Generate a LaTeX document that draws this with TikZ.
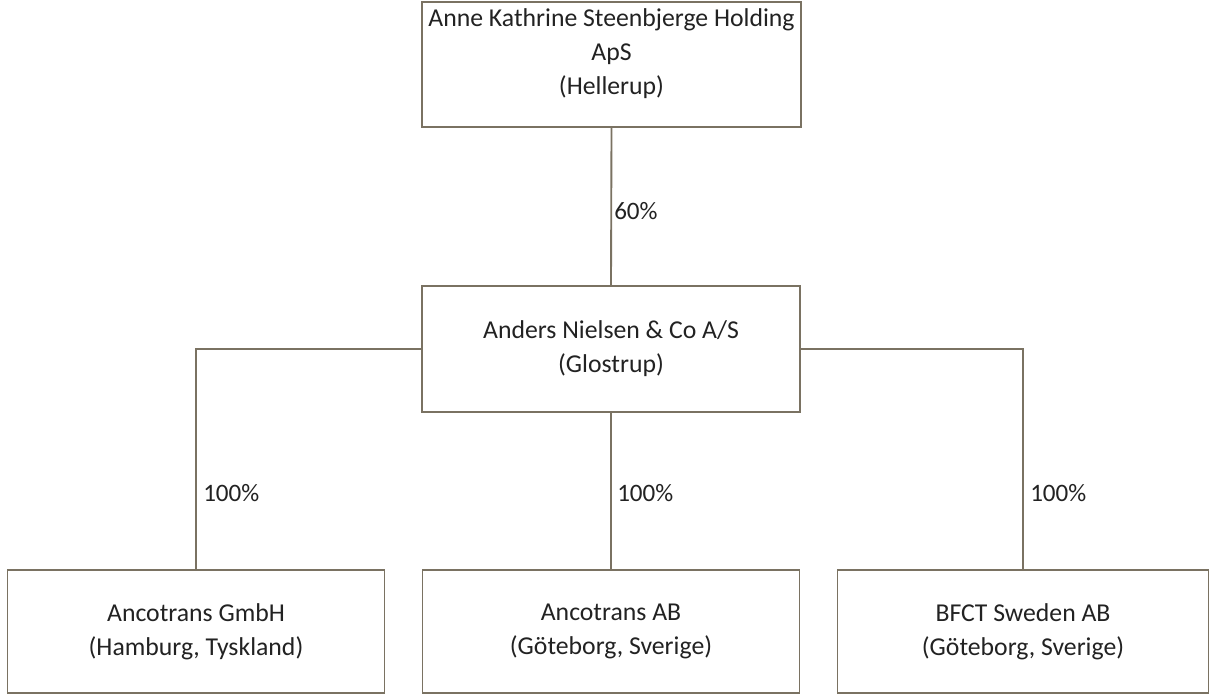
\documentclass[tikz,border=0pt]{standalone}
\usepackage{fontspec}
\setmainfont{Carlito}
\definecolor{linec}{HTML}{7A7262}
\definecolor{textc}{HTML}{222222}
\begin{document}
\begin{tikzpicture}[x=0.75pt,y=-0.75pt,
  box/.style={draw=linec,line width=1.4pt,rectangle,inner sep=0pt},
  txt/.style={text=textc,align=center,font=\fontsize{19.3}{25.5}\selectfont},
  pct/.style={text=textc,anchor=west,inner sep=0pt,font=\fontsize{18.8}{25.5}\selectfont},
  conn/.style={draw=linec,line width=1.4pt}]
\useasboundingbox[fill=white] (0,0) rectangle (1210,695);
\node[box,minimum width=284.25pt,minimum height=93.75pt] (top) at (611.5,64.5) {};
\node[txt] (toptext) at (611.5,54) {Anne Kathrine Steenbjerge Holding\\ApS\\(Hellerup)};
\node[box,txt,minimum width=283.5pt,minimum height=94.5pt] (mid) at (611,349) {Anders Nielsen \& Co A/S\\(Glostrup)};
\node[box,txt,minimum width=282.75pt,minimum height=92.25pt] (bl) at (196,631.5) {Ancotrans GmbH\\(Hamburg, Tyskland)};
\node[box,txt,minimum width=282.75pt,minimum height=92.25pt] (bm) at (611,631.5) {Ancotrans AB\\(Göteborg, Sverige)};
\node[box,txt,minimum width=278.25pt,minimum height=92.25pt] (br) at (1023,631.5) {BFCT Sweden AB\\(Göteborg, Sverige)};
\draw[conn] (top.south) -- (mid.north);
\draw[conn] (mid.west) -| (bl.north);
\draw[conn] (mid.south) -- (bm.north);
\draw[conn] (mid.east) -| (br.north);
\node[pct] (p60) at (614,211) {60\%};
\node[pct] (p1) at (203,493) {100\%};
\node[pct] (p2) at (617,493) {100\%};
\node[pct] (p3) at (1030,493) {100\%};
\end{tikzpicture}
\end{document}
